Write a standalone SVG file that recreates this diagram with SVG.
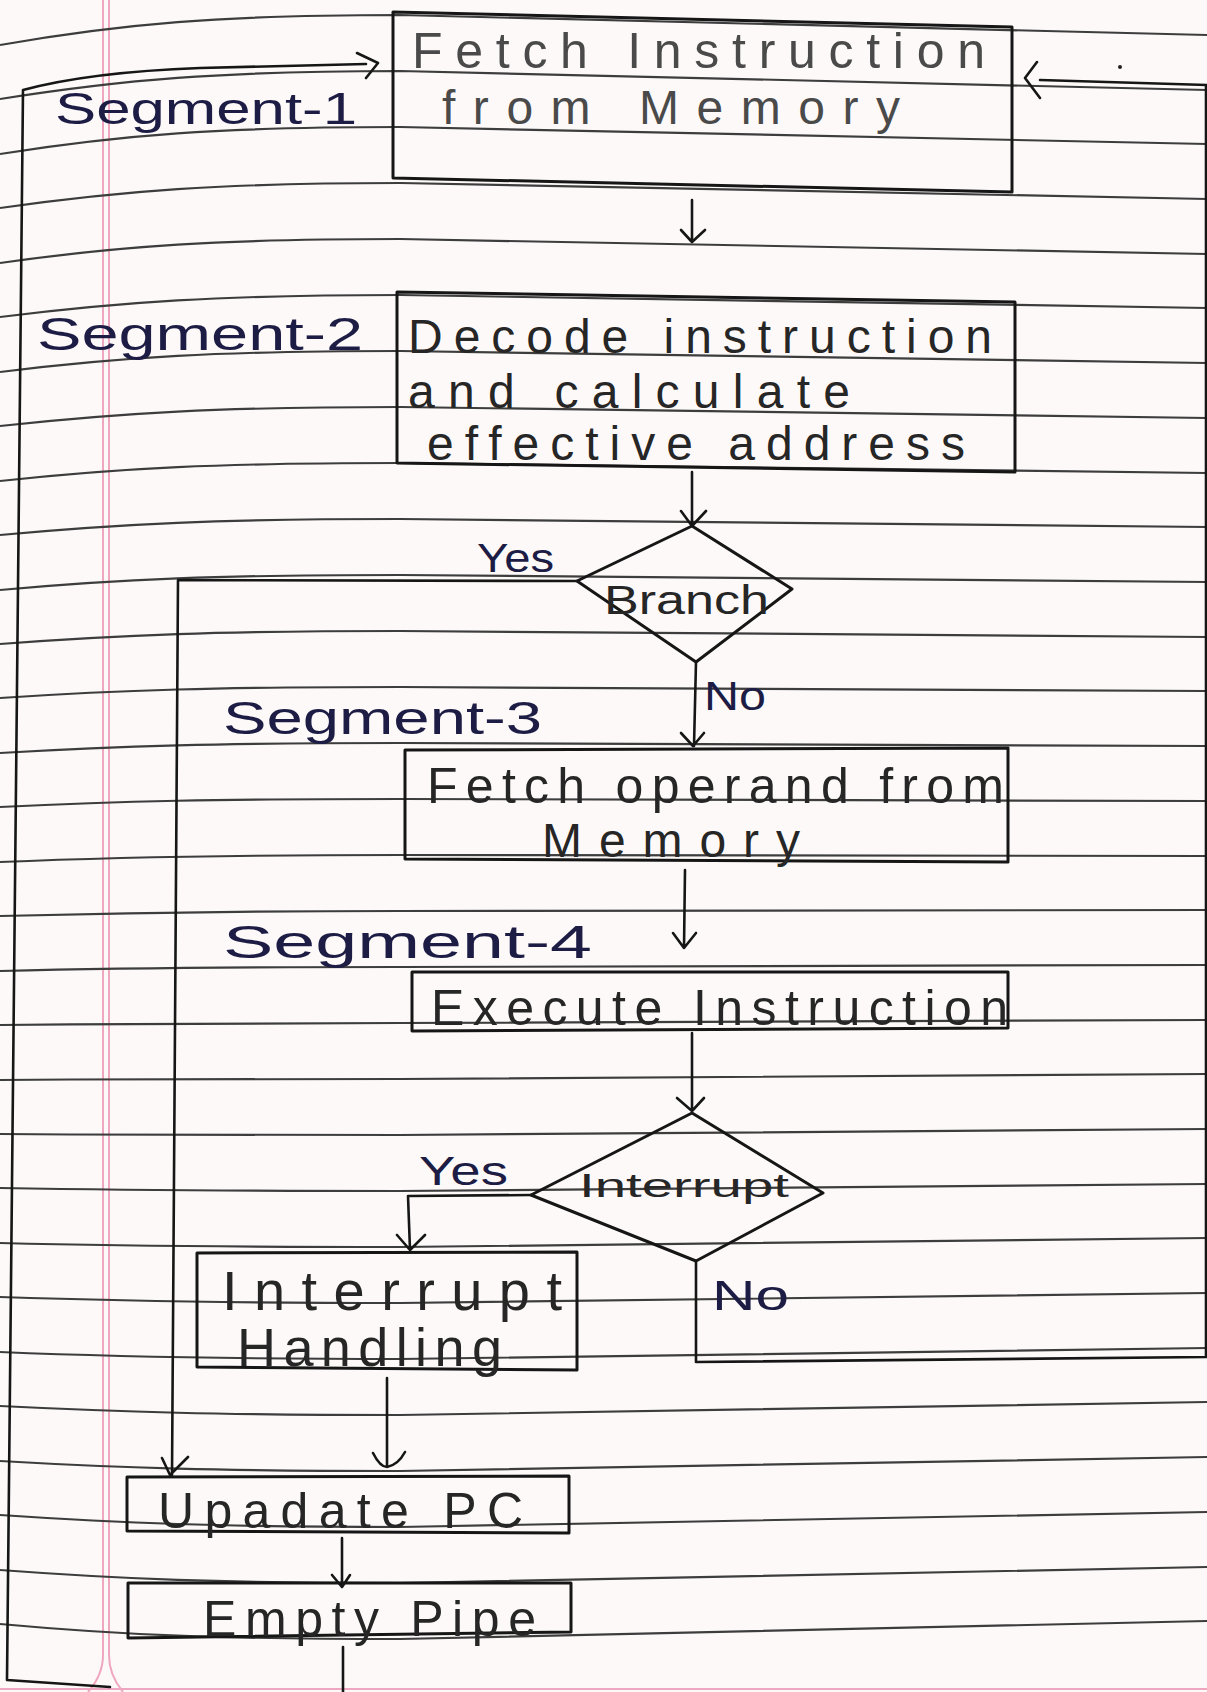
<svg xmlns="http://www.w3.org/2000/svg" width="1207" height="1692" viewBox="0 0 1207 1692">
<defs>
<style>
.rule{fill:none;stroke:#3d3d3d;stroke-width:2.2}
.pink{fill:none;stroke:#efa6c0;stroke-width:2}
.box{fill:none;stroke:#161616;stroke-width:3;stroke-linejoin:round}
.ink{fill:none;stroke:#161616;stroke-width:2.6;stroke-linecap:round;stroke-linejoin:round}
.t{font-family:"Liberation Sans","DejaVu Sans",sans-serif;fill:#262626}
.pencil{fill:#4a4a4a}
.seg{font-family:"Liberation Sans","DejaVu Sans",sans-serif;fill:#1c1c44}
</style>
</defs>
<rect width="1207" height="1692" fill="#fdf9f9"/>
<g id="paper">
<path class="pink" d="M103,0 L103,1655 Q103,1675 88,1692"/>
<path class="pink" d="M109,0 L109,1655 Q109,1675 123,1692"/>
<path class="pink" d="M0,1689 L1207,1689"/>
<path class="rule" d="M0,45 C120,24 220,15 400,15 L1207,35"/>
<path class="rule" d="M0,99 C120,80 220,71 400,71 L1207,90"/>
<path class="rule" d="M0,154 C120,135 220,127 400,127 L1207,144"/>
<path class="rule" d="M0,208 C120,191 220,183 400,183 L1207,199"/>
<path class="rule" d="M0,263 C120,246 220,239 400,239 L1207,254"/>
<path class="rule" d="M0,317 C120,302 220,295 400,295 L1207,308"/>
<path class="rule" d="M0,372 C120,357 220,351 400,351 L1207,363"/>
<path class="rule" d="M0,426 C120,413 220,407 400,407 L1207,418"/>
<path class="rule" d="M0,481 C120,468 220,463 400,463 L1207,473"/>
<path class="rule" d="M0,535 C120,524 220,519 400,519 L1207,527"/>
<path class="rule" d="M0,590 C120,579 220,575 400,575 L1207,582"/>
<path class="rule" d="M0,644 C120,635 220,631 400,631 L1207,637"/>
<path class="rule" d="M0,698 C120,690 220,687 400,687 L1207,691"/>
<path class="rule" d="M0,753 C120,746 220,743 400,743 L1207,746"/>
<path class="rule" d="M0,807 C120,801 220,799 400,799 L1207,801"/>
<path class="rule" d="M0,862 C120,857 220,855 400,855 L1207,856"/>
<path class="rule" d="M0,916 C120,913 220,911 400,911 L1207,910"/>
<path class="rule" d="M0,971 C120,968 220,967 400,967 L1207,965"/>
<path class="rule" d="M0,1025 C120,1024 220,1023 400,1023 L1207,1020"/>
<path class="rule" d="M0,1080 C120,1079 220,1079 400,1079 L1207,1074"/>
<path class="rule" d="M0,1134 C120,1135 220,1135 400,1135 L1207,1129"/>
<path class="rule" d="M0,1188 C120,1190 220,1191 400,1191 L1207,1184"/>
<path class="rule" d="M0,1243 C120,1246 220,1247 400,1247 L1207,1238"/>
<path class="rule" d="M0,1297 C120,1301 220,1303 400,1303 L1207,1293"/>
<path class="rule" d="M0,1352 C120,1357 220,1359 400,1359 L1207,1348"/>
<path class="rule" d="M0,1406 C120,1412 220,1415 400,1415 L1207,1402"/>
<path class="rule" d="M0,1461 C120,1468 220,1471 400,1471 L1207,1457"/>
<path class="rule" d="M0,1515 C120,1523 220,1527 400,1527 L1207,1512"/>
<path class="rule" d="M0,1570 C120,1579 220,1583 400,1583 L1207,1567"/>
<path class="rule" d="M0,1624 C120,1635 220,1639 400,1639 L1207,1621"/>
<circle cx="1120" cy="67" r="2" fill="#222"/>
</g>
<g id="connectors">
<path class="ink" d="M692,200 L692,242 M681,230 L692,242 L705,230"/>
<path class="ink" d="M692,472 L692,526 M681,511 L692,526 L706,511"/>
<path class="ink" d="M577,581 L178,580 L172,1475 M162,1458 L170,1475 L188,1457"/>
<path class="ink" d="M696,662 L694,746 M681,733 L693,746 L704,733"/>
<path class="ink" d="M685,870 L684,948 M673,933 L684,948 L696,933"/>
<path class="ink" d="M692,1033 L692,1111 M677,1098 L692,1111 L704,1098"/>
<path class="ink" d="M531,1195 L408,1196 L410,1250 M397,1235 L410,1250 L425,1235"/>
<path class="ink" d="M696,1261 L696,1362 L1206,1357 L1206,86"/>
<path class="ink" d="M1207,85 L1040,80 M1037,62 L1025,78 L1040,98"/>
<path class="ink" d="M387,1378 L387,1467 M373,1453 Q380,1467 387,1467 Q398,1465 405,1452"/>
<path class="ink" d="M342,1538 L342,1587 M332,1575 L342,1587 L350,1575"/>
<path class="ink" d="M343,1647 L343,1692"/>
<path class="ink" d="M110,1687 L7,1680 L23,90 Q90,72 200,68 L366,64 M357,53 L378,63 L366,78"/>
</g>
<g id="seg1"><text class="seg" x="55" y="124" font-size="44" textLength="302" lengthAdjust="spacingAndGlyphs">Segment-1</text></g>
<g id="seg2"><text class="seg" x="37" y="350" font-size="46" textLength="326" lengthAdjust="spacingAndGlyphs">Segment-2</text></g>
<g id="seg3"><text class="seg" x="223" y="734" font-size="46" textLength="319" lengthAdjust="spacingAndGlyphs">Segment-3</text></g>
<g id="seg4"><text class="seg" x="223" y="958" font-size="46" textLength="369" lengthAdjust="spacingAndGlyphs">Segment-4</text></g>
<g id="fetch-instruction">
<polygon class="box" points="393,12 1012,27 1012,192 393,178"/>
<text class="t pencil" x="412" y="68" font-size="50" textLength="573" lengthAdjust="spacing">Fetch Instruction</text>
<text class="t pencil" x="442" y="124" font-size="48" textLength="458" lengthAdjust="spacing">from Memory</text>
</g>
<g id="decode">
<polygon class="box" points="397,292 1015,302 1015,472 397,463"/>
<text class="t" x="408" y="353" font-size="48" textLength="584" lengthAdjust="spacing">Decode instruction</text>
<text class="t" x="408" y="408" font-size="48" textLength="442" lengthAdjust="spacing">and calculate</text>
<text class="t" x="427" y="460" font-size="48" textLength="538" lengthAdjust="spacing">effective address</text>
</g>
<g id="branch">
<polygon class="box" points="692,526 792,589 696,662 577,581"/>
<text class="t" x="604" y="614" font-size="40" textLength="165" lengthAdjust="spacingAndGlyphs">Branch</text>
<text class="seg" x="477" y="572" font-size="40" textLength="77" lengthAdjust="spacingAndGlyphs">Yes</text>
<text class="seg" x="704" y="710" font-size="40" textLength="62" lengthAdjust="spacingAndGlyphs">No</text>
</g>
<g id="fetch-operand">
<polygon class="box" points="405,750 1008,748 1008,862 405,859"/>
<text class="t" x="427" y="803" font-size="50" textLength="577" lengthAdjust="spacing">Fetch operand from</text>
<text class="t" x="542" y="857" font-size="48" textLength="258" lengthAdjust="spacing">Memory</text>
</g>
<g id="execute">
<polygon class="box" points="412,972 1008,972 1008,1028 412,1031"/>
<text class="t" x="431" y="1025" font-size="50" textLength="577" lengthAdjust="spacing">Execute Instruction</text>
</g>
<g id="interrupt">
<polygon class="box" points="692,1113 823,1193 696,1261 531,1195"/>
<text class="t" x="579" y="1197" font-size="34" textLength="210" lengthAdjust="spacingAndGlyphs">Interrupt</text>
<text class="seg" x="419" y="1185" font-size="40" textLength="89" lengthAdjust="spacingAndGlyphs">Yes</text>
<text class="seg" x="712" y="1310" font-size="42" textLength="77" lengthAdjust="spacingAndGlyphs">No</text>
</g>
<g id="interrupt-handling">
<polygon class="box" points="197,1253 577,1252 577,1370 197,1367"/>
<text class="t" x="222" y="1310" font-size="56" textLength="340" lengthAdjust="spacing">Interrupt</text>
<text class="t" x="237" y="1366" font-size="54" textLength="265" lengthAdjust="spacing">Handling</text>
</g>
<g id="update-pc">
<polygon class="box" points="127,1477 569,1476 569,1533 127,1531"/>
<text class="t" x="158" y="1528" font-size="50" textLength="365" lengthAdjust="spacing">Upadate PC</text>
</g>
<g id="empty-pipe">
<polygon class="box" points="128,1583 571,1583 571,1632 128,1638"/>
<text class="t" x="203" y="1636" font-size="50" textLength="333" lengthAdjust="spacing">Empty Pipe</text>
</g>
</svg>
